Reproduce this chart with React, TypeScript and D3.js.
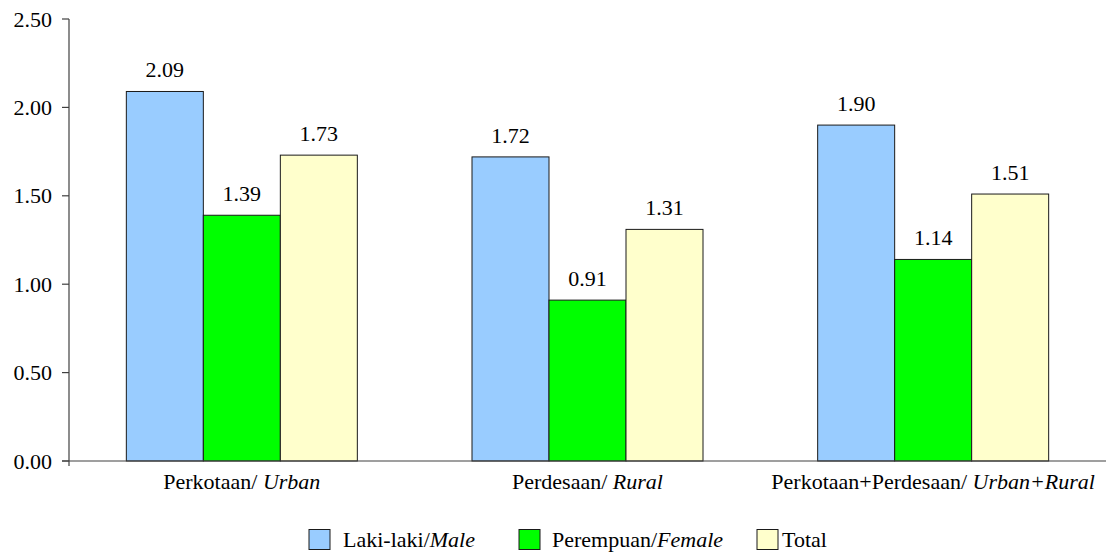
import React from "react";
import * as d3 from "d3";

const categories = ["Perkotaan/ |Urban", "Perdesaan/ |Rural", "Perkotaan+Perdesaan/ |Urban+Rural"];
const seriesNames = ["Laki-laki/|Male", "Perempuan/|Female", "Total|"];
const seriesColors = ["#99CCFF", "#00FF00", "#FFFFCC"];
const male = [2.09, 1.72, 1.9];
const female = [1.39, 0.91, 1.14];
const total = [1.73, 1.31, 1.51];
const yTicks = [0, 0.5, 1.0, 1.5, 2.0, 2.5];

const W = 1107;
const H = 552;
const FONT = "'Liberation Serif', 'Times New Roman', Times, serif";
const FS = 22;

function MixedText({ label, ...props }: any) {
  const [a, b] = label.split("|");
  return (
    <text {...props} style={{ fontFamily: FONT, fontSize: FS }}>
      <tspan>{a}</tspan>
      {b ? <tspan style={{ fontStyle: "italic" }}>{b}</tspan> : null}
    </text>
  );
}

export default function App() {
  const values = [male, female, total];
  const x = d3.scaleBand<string>().domain(categories).range([69, 1106]).padding(0);
  const bw = x.bandwidth();
  const barW = 77;
  const inner = d3
    .scaleBand<string>()
    .domain(seriesNames)
    .range([bw / 2 - (barW * 3) / 2, bw / 2 + (barW * 3) / 2])
    .padding(0);
  const y = d3.scaleLinear().domain([0, 2.5]).range([461, 19]);

  const legendItems = [
    { sq: 309, tx: 343 },
    { sq: 519, tx: 552 },
    { sq: 757, tx: 782 },
  ];
  const ts = { fontFamily: FONT, fontSize: FS };

  return (
    <svg
      width={W}
      height={H}
      style={{ position: "absolute", left: 0, top: 0, background: "#fff" }}
    >
      {categories.map((c, ci) =>
        seriesNames.map((s, si) => {
          const v = values[si][ci];
          const bx = (x(c) as number) + (inner(s) as number);
          const by = y(v);
          return (
            <g key={c + s}>
              <rect
                x={bx}
                y={by}
                width={inner.bandwidth()}
                height={y(0) - by}
                fill={seriesColors[si]}
                stroke="#1a1a1a"
                strokeWidth={1}
              />
              <text x={bx + inner.bandwidth() / 2} y={by - 14} textAnchor="middle" fill="#000" style={ts}>
                {v.toFixed(2)}
              </text>
            </g>
          );
        })
      )}

      <line x1={69} x2={69} y1={y(2.5)} y2={466} stroke="#404040" strokeWidth={1.2} />
      {yTicks.map((t) => (
        <g key={t}>
          <line x1={62} x2={69} y1={y(t)} y2={y(t)} stroke="#404040" strokeWidth={1.2} />
          <text x={52} y={y(t)} textAnchor="end" dominantBaseline="central" fill="#000" style={ts}>
            {t.toFixed(2)}
          </text>
        </g>
      ))}

      <line x1={62} x2={1106} y1={y(0)} y2={y(0)} stroke="#404040" strokeWidth={1.2} />
      {categories.map((c) => (
        <MixedText
          key={c}
          label={c}
          x={(x(c) as number) + bw / 2}
          y={489}
          textAnchor="middle"
          fill="#000"
        />
      ))}

      {seriesNames.map((s, i) => (
        <g key={s}>
          <rect
            x={legendItems[i].sq}
            y={529.5}
            width={21}
            height={20}
            fill={seriesColors[i]}
            stroke="#1a1a1a"
            strokeWidth={1}
          />
          <MixedText label={s} x={legendItems[i].tx} y={547} fill="#000" />
        </g>
      ))}
    </svg>
  );
}
